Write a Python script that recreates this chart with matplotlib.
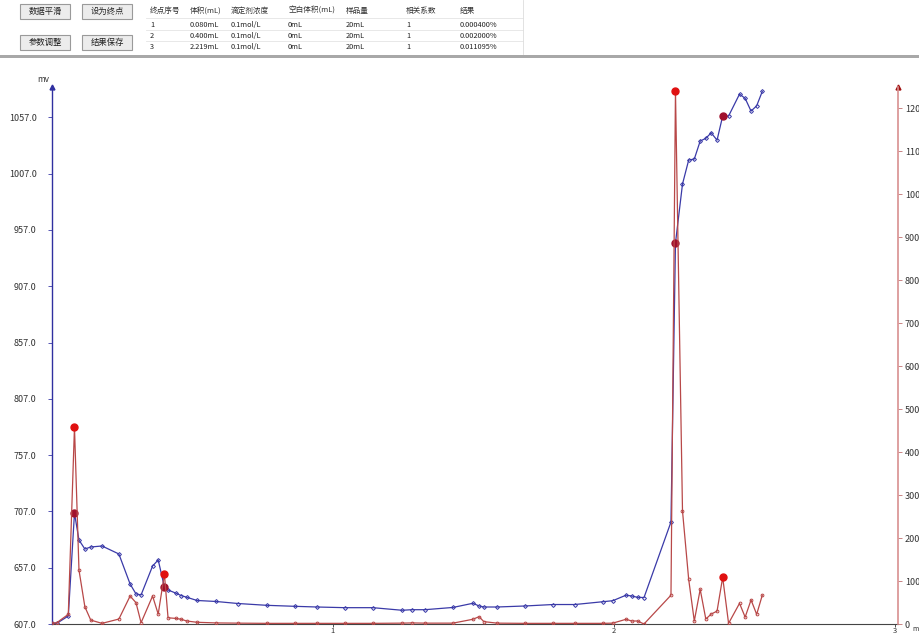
import matplotlib
matplotlib.use("Agg")
import matplotlib.pyplot as plt
from matplotlib.patches import Rectangle

plt.rcParams['font.family'] = ['Noto Sans CJK SC', 'DejaVu Sans']

# titration data: volume (mL), potential (mV), derivative
volume = [0.0, 0.017, 0.058, 0.080, 0.096, 0.117, 0.138, 0.178, 0.238, 0.278,
          0.299, 0.317, 0.358, 0.378, 0.400, 0.413, 0.440, 0.460, 0.479, 0.516,
          0.584, 0.662, 0.764, 0.865, 0.943, 1.043, 1.142, 1.246, 1.281, 1.327,
          1.427, 1.498, 1.520, 1.537, 1.584, 1.683, 1.783, 1.861, 1.961, 1.996,
          2.043, 2.063, 2.084, 2.107, 2.203, 2.219, 2.244, 2.266, 2.286, 2.307,
          2.327, 2.346, 2.367, 2.387, 2.408, 2.447, 2.467, 2.488, 2.508, 2.528]
mv = [607.6, 607.6, 614.1, 705.5, 681.6, 673.6, 675.4, 676.3, 669.2, 642.5,
      633.7, 632.8, 658.5, 663.9, 639.9, 637.2, 634.5, 632.2, 630.8, 627.9,
      627.0, 625.2, 623.6, 622.7, 622.1, 621.5, 621.5, 619.2, 619.7, 619.7,
      621.7, 625.4, 623.0, 622.1, 622.1, 623.0, 624.3, 624.3, 626.8, 627.7,
      632.6, 631.9, 630.7, 630.5, 697.6, 945.4, 997.8, 1019.1, 1020.0, 1036.0,
      1038.4, 1043.3, 1036.8, 1058.2, 1058.2, 1077.7, 1073.9, 1062.6, 1067.3, 1080.1]
deriv = [20, 30, 225, 4580, 1255, 400, 90, 15, 115, 650,
         495, 30, 650, 230, 1160, 145, 130, 110, 70, 40,
         25, 20, 15, 15, 15, 15, 15, 20, 25, 20,
         20, 110, 170, 55, 20, 15, 15, 15, 15, 20,
         110, 70, 70, 0, 670, 12400, 2630, 1040, 70, 805,
         115, 230, 300, 1085, 15, 480, 160, 560, 225, 670]

# endpoints marked on the curves
end_idx = [3, 14, 45, 53]

mv_ticks = [607.0, 657.0, 707.0, 757.0, 807.0, 857.0, 907.0, 957.0, 1007.0, 1057.0]
d_ticks = [0, 1000, 2000, 3000, 4000, 5000, 6000, 7000, 8000, 9000, 10000, 11000, 12000]

table_head = ['终点序号', '体积(mL)', '滴定剂浓度', '空白体积(mL)', '样品量', '相关系数', '结果']
table_rows = [['1', '0.080mL', '0.1mol/L', '0mL', '20mL', '1', '0.000400%'],
              ['2', '0.400mL', '0.1mol/L', '0mL', '20mL', '1', '0.002000%'],
              ['3', '2.219mL', '0.1mol/L', '0mL', '20mL', '1', '0.011095%']]
buttons = ['数据平滑', '设为终点', '参数调整', '结果保存']

W, H = 919, 636
fig = plt.figure(figsize=(W / 100, H / 100), dpi=100)

# ---- top panel (buttons + result table) ----
btn_pos = [(20, 4), (82, 4), (20, 35), (82, 35)]
for name, (bx, by) in zip(buttons, btn_pos):
    fig.patches.append(Rectangle((bx / W, 1 - (by + 15) / H), 50 / W, 15 / H,
                                 transform=fig.transFigure, facecolor='#ececec',
                                 edgecolor='#9a9a9a', lw=0.8))
    fig.text((bx + 25) / W, 1 - (by + 7.5) / H, name, ha='center', va='center',
             fontsize=6, color='#222222')

col_x = [150, 190, 231, 288, 346, 406, 460]
row_y = [11, 25, 36, 47]
for cx, txt in zip(col_x, table_head):
    fig.text(cx / W, 1 - row_y[0] / H, txt, ha='left', va='center', fontsize=5.5, color='#333333')
for r, row in enumerate(table_rows):
    for cx, txt in zip(col_x, row):
        fig.text(cx / W, 1 - row_y[r + 1] / H, txt, ha='left', va='center', fontsize=5.3, color='#222222')
for yy in [18, 30, 41]:
    fig.add_artist(plt.Line2D([146 / W, 523 / W], [1 - yy / H] * 2, color='#e4e4e4', lw=0.6))
fig.add_artist(plt.Line2D([523 / W, 523 / W], [1 - 54 / H, 1.0], color='#dddddd', lw=0.6))
fig.patches.append(Rectangle((0, 1 - 58 / H), 1, 3 / H, transform=fig.transFigure,
                             facecolor='#a8a8a8', edgecolor='none'))

# ---- chart ----
ax = fig.add_axes([52 / W, 12 / H, (898 - 52) / W, (624 - 87) / H])
ax2 = ax.twinx()

ax.plot(volume, mv, color='#3a3aa8', lw=0.9, marker='D', markersize=2,
        markerfacecolor='none', markeredgewidth=0.7)
ax2.plot(volume, deriv, color='#b84848', lw=0.9, marker='o', markersize=2,
         markerfacecolor='none', markeredgewidth=0.7)
ax.plot([volume[i] for i in end_idx], [mv[i] for i in end_idx], 'o',
        color='#a0102c', markersize=5, zorder=5)
ax2.plot([volume[i] for i in end_idx], [deriv[i] for i in end_idx], 'o',
         color='#e01010', markersize=5, zorder=5)

ax.set_xlim(0, 3.011)
ax.set_ylim(607, 1084)
ax2.set_ylim(0, 12490)

ax.set_xticks([1, 2, 3])
ax.set_xticklabels(['1', '2', '3'])
ax.set_yticks(mv_ticks)
ax.set_yticklabels([f'{t:.1f}' for t in mv_ticks])
ax2.set_yticks(d_ticks)
ax2.set_yticklabels([str(t) for t in d_ticks])

ax.tick_params(axis='y', colors='#333333', labelsize=6.5, length=3, width=0.6, pad=8)
ax.tick_params(axis='y', color='#3a3aa8')
ax.tick_params(axis='x', colors='#333333', labelsize=5.5, length=2, width=0.6, pad=0.3)
ax2.tick_params(axis='y', labelcolor='#333333', color='#c07070', labelsize=6.5,
                length=3, width=0.6, pad=2)

for a in (ax, ax2):
    a.spines['top'].set_visible(False)
    a.patch.set_visible(False)
ax.spines['left'].set_color('#3030a0')
ax.spines['left'].set_linewidth(1.0)
ax.spines['right'].set_visible(False)
ax.spines['bottom'].set_color('#444444')
ax2.spines['left'].set_visible(False)
ax2.spines['bottom'].set_visible(False)
ax2.spines['right'].set_color('#d89090')
ax2.spines['right'].set_linewidth(1.2)

# arrow heads on the axes
ax.plot([0], [1], marker='^', color='#3030a0', markersize=3.5, transform=ax.transAxes, clip_on=False)
ax2.plot([1], [1], marker='^', color='#a01010', markersize=3.5, transform=ax.transAxes, clip_on=False)

fig.text(43 / W, 1 - 80 / H, 'mv', fontsize=6, color='#333333', ha='center', va='center')
fig.text(912 / W, 1 - 629 / H, 'mL', fontsize=5, color='#333333', ha='left', va='center')

fig.savefig('out.png', dpi=100)
